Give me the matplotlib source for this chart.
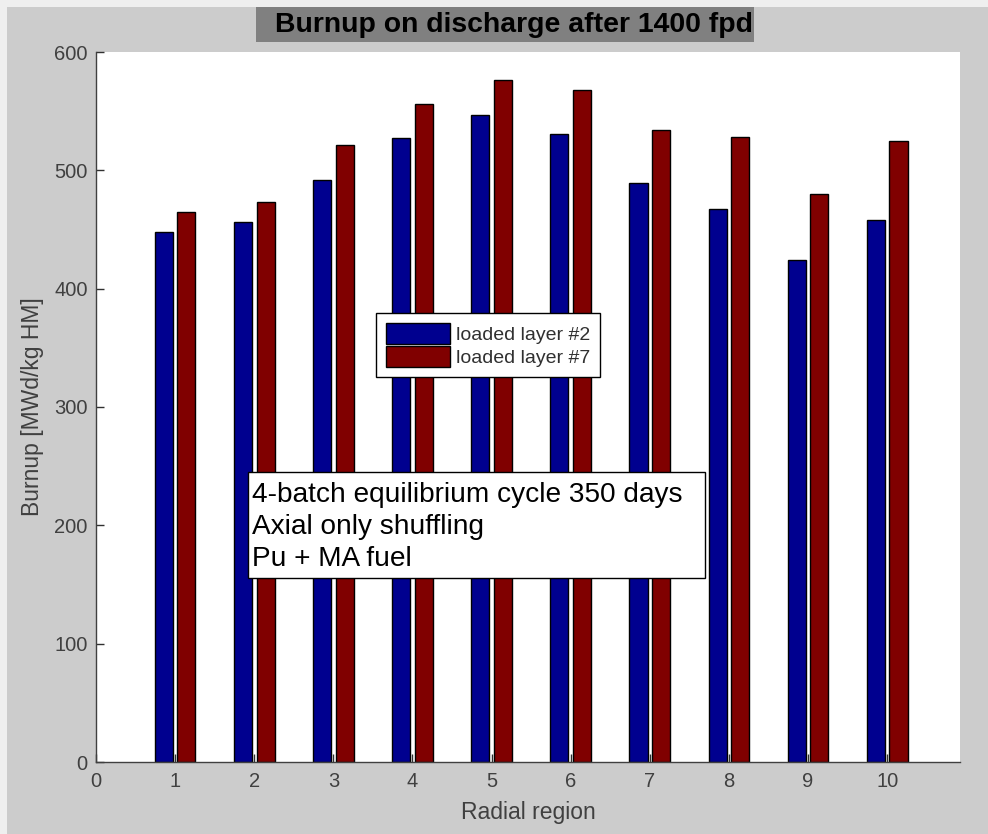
import numpy as np
import matplotlib
matplotlib.use("Agg")
import matplotlib.pyplot as plt
from matplotlib.patches import Rectangle

plt.rcParams['font.family'] = ['Liberation Sans', 'DejaVu Sans']

# burnup per radial region, MWd/kg HM
regions = np.arange(1, 11)
layer2 = [448, 456, 492, 527, 547, 531, 489, 467, 424, 458]
layer7 = [465, 473, 521, 556, 576, 568, 534, 528, 480, 525]
labels = ['loaded layer #2', 'loaded layer #7']
note = "4-batch equilibrium cycle 350 days\nAxial only shuffling\nPu + MA fuel"

W, H = 988, 834
fig = plt.figure(figsize=(W / 100, H / 100), dpi=100)
fig.patch.set_facecolor('#efefef')
# grey window area with thin light border top/left
fig.patches.append(Rectangle((7 / W, 0), 1, 1 - 7 / H, transform=fig.transFigure,
                             facecolor='#cccccc', edgecolor='none', zorder=-10))

ax = fig.add_axes([96 / W, 72 / H, 864 / W, 710 / H])
ax.set_facecolor('white')

# grouped bars, matlab-style spacing
bw = 0.2286
off = 0.1429
b1 = ax.bar(regions - off, layer2, bw, color='#00008f', edgecolor='black', linewidth=1.0)
b2 = ax.bar(regions + off, layer7, bw, color='#800000', edgecolor='black', linewidth=1.0)

ax.set_xlim(0, 10.92)
ax.set_ylim(0, 600)
ax.set_xticks(np.arange(0, 11))
ax.set_yticks(np.arange(0, 601, 100))

for s in ['top', 'right']:
    ax.spines[s].set_visible(False)
for s in ['left', 'bottom']:
    ax.spines[s].set_color('#404040')
    ax.spines[s].set_linewidth(1.0)

ax.tick_params(axis='both', direction='in', length=6, width=1, color='#303030',
               labelsize=14.5, labelcolor='#404040')
ax.tick_params(axis='x', pad=7)
ax.tick_params(axis='y', pad=6)

ax.set_xlabel('Radial region', fontsize=16.5, color='#404040')
ax.set_ylabel('Burnup [MWd/kg HM]', fontsize=16.5, color='#404040')
ax.xaxis.set_label_coords(0.5, -39 / 710)
ax.yaxis.set_label_coords(-52 / 864, 0.5)

leg = ax.legend([b1, b2], labels, loc='upper left',
                bbox_to_anchor=((376 - 96) / 864, (762 - 313) / 710),
                borderaxespad=0, fontsize=14, fancybox=False, framealpha=1,
                edgecolor='black', handlelength=3.3, handleheight=1.3,
                handletextpad=0.3, labelspacing=0.1, borderpad=0.5)
leg.get_frame().set_linewidth(1.0)
for t in leg.get_texts():
    t.set_color('#303030')

# annotation box
ax.add_patch(Rectangle(((248 - 96) / 864, (762 - 578) / 710), 457 / 864, 106 / 710,
                       transform=ax.transAxes, facecolor='white', edgecolor='black',
                       linewidth=1.0, zorder=5))
ax.text((252 - 96) / 864, (762 - 527) / 710, note, transform=ax.transAxes,
        fontsize=20.2, ha='left', va='center', linespacing=1.32, color='black', zorder=6)

# title on a dark grey plate
fig.patches.append(Rectangle((256 / W, 1 - 42 / H), 498 / W, 35 / H, transform=fig.transFigure,
                             facecolor='#808080', edgecolor='none', zorder=1))
fig.text(275 / W, 1 - 25 / H, 'Burnup on discharge after 1400 fpd', fontsize=20.4,
         fontweight='bold', ha='left', va='center', color='black', zorder=2)

fig.savefig('out.png', dpi=100, facecolor=fig.get_facecolor())
